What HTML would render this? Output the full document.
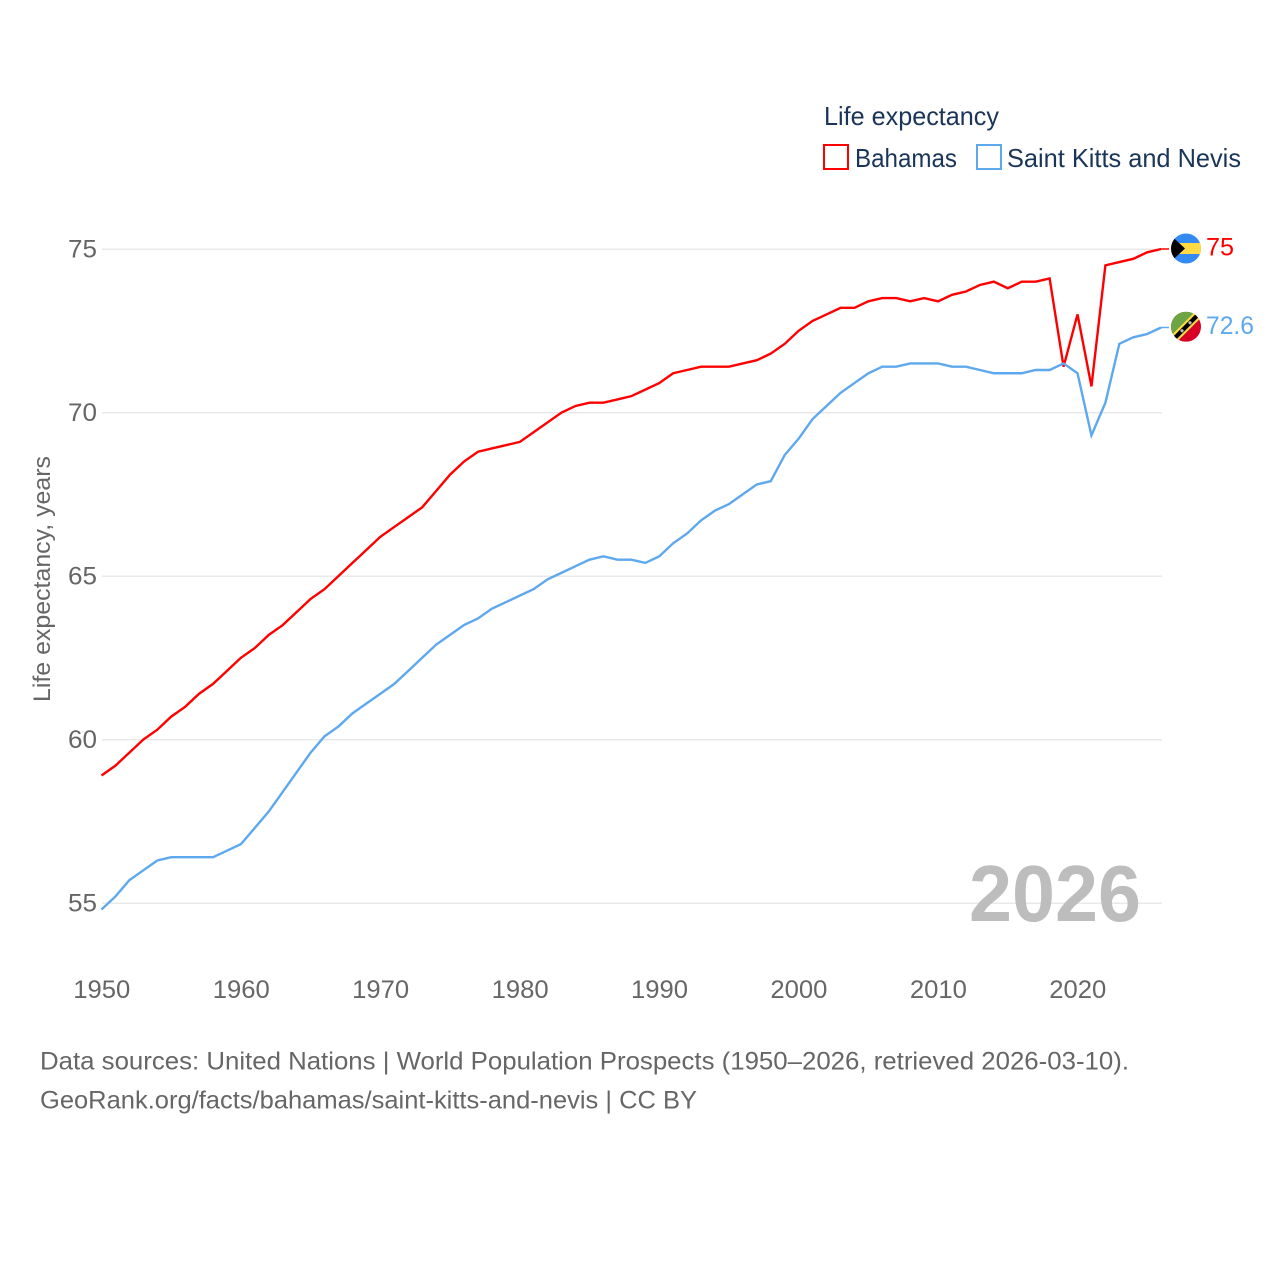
<!DOCTYPE html>
<html lang="en">
<head>
<meta charset="utf-8">
<title>Life expectancy: Bahamas and Saint Kitts and Nevis</title>
<style>
html,body{margin:0;padding:0;background:#fff;}
svg{display:block;font-family:"Liberation Sans",sans-serif;}
</style>
</head>
<body>
<svg id="chart" width="1280" height="1280" viewBox="0 0 1280 1280" xmlns="http://www.w3.org/2000/svg">
  <defs>
    <clipPath id="clip-bs"><circle cx="0" cy="0" r="15"/></clipPath>
    <clipPath id="clip-kn"><circle cx="0" cy="0" r="15"/></clipPath>
  </defs>
  <rect width="1280" height="1280" fill="#fff"/>
  <g id="grid"></g>
  <text x="969" y="921" font-size="80" font-weight="700" fill="#bdbdbd" textLength="172" lengthAdjust="spacingAndGlyphs">2026</text>
  <g id="yticks"></g>
  <g id="xticks"></g>
  <text transform="translate(50,702) rotate(-90)" font-size="24" fill="#666" textLength="246" lengthAdjust="spacingAndGlyphs">Life expectancy, years</text>
  <g id="series"></g>

  <g id="flag-bs">
    <g clip-path="url(#clip-bs)">
      <rect x="-15" y="-15" width="30" height="30" fill="#338af3"/>
      <rect x="-15" y="-5.5" width="30" height="11" fill="#ffda44"/>
      <path d="M-15,-13 L-1,0 L-15,13 Z" fill="#000"/>
    </g>
  </g>
  <g id="flag-kn">
    <g clip-path="url(#clip-kn)">
      <rect x="-15" y="-15" width="30" height="30" fill="#d80027"/>
      <path d="M-15,15 L-15,-15 L15,-15 Z" fill="#6da544"/>
      <path d="M-15,9 L9,-15 L15,-15 L15,-9 L-9,15 L-15,15 Z" fill="#ffda44"/>
      <path d="M-15,12 L12,-15 L15,-12 L-12,15 Z" fill="#000"/>
      <circle cx="-4" cy="4" r="1.6" fill="#bbb"/>
      <circle cx="4" cy="-4" r="1.6" fill="#bbb"/>
    </g>
  </g>
  <text id="value-bs" x="1206" font-size="25" fill="#ff0000" textLength="28" lengthAdjust="spacingAndGlyphs">75</text>
  <text id="value-kn" x="1206" font-size="25" fill="#5ea8ee" textLength="48" lengthAdjust="spacingAndGlyphs">72.6</text>

  <text x="824" y="125" font-size="26" fill="#1a3557" textLength="175" lengthAdjust="spacingAndGlyphs">Life expectancy</text>
  <rect x="824" y="145" width="24" height="24" fill="none" stroke="#ff0000" stroke-width="2"/>
  <text x="855" y="167" font-size="26" fill="#1a3557" textLength="102" lengthAdjust="spacingAndGlyphs">Bahamas</text>
  <rect x="977" y="145" width="24" height="24" fill="none" stroke="#5ea8ee" stroke-width="2"/>
  <text x="1007" y="167" font-size="26" fill="#1a3557" textLength="234" lengthAdjust="spacingAndGlyphs">Saint Kitts and Nevis</text>

  <text x="40" y="1069.5" font-size="25" fill="#666" textLength="1089" lengthAdjust="spacingAndGlyphs">Data sources: United Nations | World Population Prospects (1950–2026, retrieved 2026-03-10).</text>
  <text x="40" y="1108.5" font-size="25" fill="#666" textLength="657" lengthAdjust="spacingAndGlyphs">GeoRank.org/facts/bahamas/saint-kitts-and-nevis | CC BY</text>
</svg>
<script>
const startYear = 1950;
const yTickValues = [55, 60, 65, 70, 75];
const xTickValues = [1950, 1960, 1970, 1980, 1990, 2000, 2010, 2020];
const bahamas = [
  58.9,59.2,59.6,60.0,60.3,60.7,61.0,61.4,61.7,62.1,
  62.5,62.8,63.2,63.5,63.9,64.3,64.6,65.0,65.4,65.8,
  66.2,66.5,66.8,67.1,67.6,68.1,68.5,68.8,68.9,69.0,
  69.1,69.4,69.7,70.0,70.2,70.3,70.3,70.4,70.5,70.7,
  70.9,71.2,71.3,71.4,71.4,71.4,71.5,71.6,71.8,72.1,
  72.5,72.8,73.0,73.2,73.2,73.4,73.5,73.5,73.4,73.5,
  73.4,73.6,73.7,73.9,74.0,73.8,74.0,74.0,74.1,71.4,
  73.0,70.8,74.5,74.6,74.7,74.9,75.0
];
const saintKitts = [
  54.8,55.2,55.7,56.0,56.3,56.4,56.4,56.4,56.4,56.6,
  56.8,57.3,57.8,58.4,59.0,59.6,60.1,60.4,60.8,61.1,
  61.4,61.7,62.1,62.5,62.9,63.2,63.5,63.7,64.0,64.2,
  64.4,64.6,64.9,65.1,65.3,65.5,65.6,65.5,65.5,65.4,
  65.6,66.0,66.3,66.7,67.0,67.2,67.5,67.8,67.9,68.7,
  69.2,69.8,70.2,70.6,70.9,71.2,71.4,71.4,71.5,71.5,
  71.5,71.4,71.4,71.3,71.2,71.2,71.2,71.3,71.3,71.5,
  71.2,69.3,70.3,72.1,72.3,72.4,72.6
];

const NS = 'http://www.w3.org/2000/svg';
function xScale(year){ return 101.5 + (year - 1950) * 13.943; }
function yScale(v){ return 903 - (v - 55) * 32.7; }
function make(tag, parent){
  const el = document.createElementNS(NS, tag);
  parent.appendChild(el);
  return el;
}

const gridG = document.getElementById('grid');
const yG = document.getElementById('yticks');
yTickValues.forEach(function(v){
  const line = make('line', gridG);
  
  
  line.setAttribute('x1', 102);
  line.setAttribute('x2', 1162);
  line.setAttribute('y1', yScale(v) + 0.3);
  line.setAttribute('y2', yScale(v) + 0.3);
  line.setAttribute('stroke', '#e9e9e9');
  line.setAttribute('stroke-width', '1.5');
  const t = make('text', yG);
  
  
  t.setAttribute('x', 68);
  t.setAttribute('y', yScale(v) + 8.5);
  t.setAttribute('font-size', '25');
  t.setAttribute('fill', '#666');
  t.setAttribute('textLength', '29');
  t.setAttribute('lengthAdjust', 'spacingAndGlyphs');
  t.textContent = v;
});

const xG = document.getElementById('xticks');
xTickValues.forEach(function(y){
  const t = make('text', xG);
  
  
  t.setAttribute('x', xScale(y) - 28.2);
  t.setAttribute('y', 998);
  t.setAttribute('font-size', '25');
  t.setAttribute('fill', '#666');
  t.setAttribute('textLength', '57');
  t.setAttribute('lengthAdjust', 'spacingAndGlyphs');
  t.textContent = y;
});

const seriesG = document.getElementById('series');
function drawSeries(values, color, name){
  const pts = values.map(function(v, i){
    return xScale(startYear + i).toFixed(2) + ',' + yScale(v).toFixed(2);
  });
  const last = values[values.length - 1];
  const tail = make('line', seriesG);
  
  
  tail.setAttribute('x1', xScale(startYear + values.length - 1));
  tail.setAttribute('x2', 1169);
  tail.setAttribute('y1', yScale(last));
  tail.setAttribute('y2', yScale(last));
  tail.setAttribute('stroke', color);
  tail.setAttribute('stroke-width', '1.5');
  const line = make('polyline', seriesG);
  
  
  line.setAttribute('points', pts.join(' '));
  line.setAttribute('fill', 'none');
  line.setAttribute('stroke', color);
  line.setAttribute('stroke-width', '2.4');
  line.setAttribute('stroke-linejoin', 'miter');
}
drawSeries(bahamas, '#ff0000', 'bahamas');
drawSeries(saintKitts, '#5ea8ee', 'saint-kitts');

function placeEnd(flagId, labelId, value, dy){
  const cy = yScale(value) + dy;
  document.getElementById(flagId).setAttribute('transform', 'translate(1186,' + cy + ')');
  document.getElementById(labelId).setAttribute('y', cy + 7);
  document.getElementById(labelId).textContent = value;
}
placeEnd('flag-bs', 'value-bs', bahamas[bahamas.length - 1], -0.5);
placeEnd('flag-kn', 'value-kn', saintKitts[saintKitts.length - 1], -0.7);
</script>
</body>
</html>
